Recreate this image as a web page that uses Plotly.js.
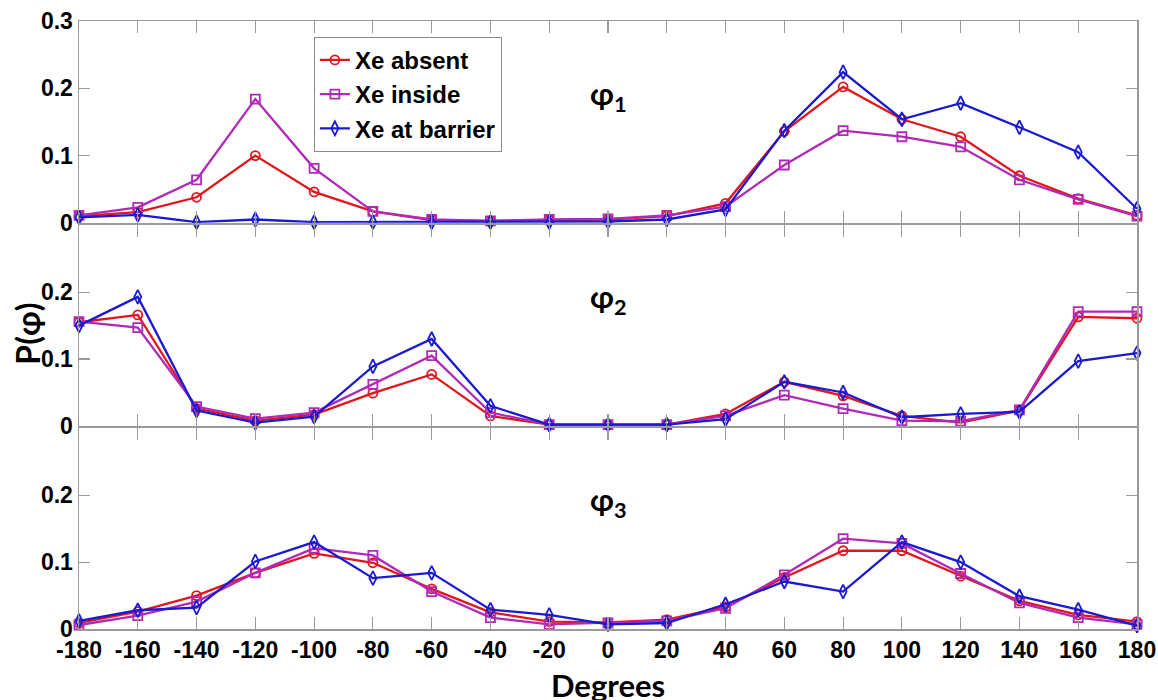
<!DOCTYPE html>
<html>
<head>
<meta charset="utf-8">
<script src="https://cdn.plot.ly/plotly-3.0.1.min.js"></script>
<style>
  html, body { margin: 0; padding: 0; background: #ffffff; }
  #chart { width: 1158px; height: 700px; }
</style>
</head>
<body>
<div id="chart"></div>
<script>
// Dihedral angle bins (degrees)
const degrees = [-180, -160, -140, -120, -100, -80, -60, -40, -20, 0, 20, 40, 60, 80, 100, 120, 140, 160, 180];
const degreeLabels = ["-180", "-160", "-140", "-120", "-100", "-80", "-60", "-40", "-20", "0", "20", "40", "60", "80", "100", "120", "140", "160", "180"];

const seriesNames = ["Xe absent", "Xe inside", "Xe at barrier"];
const panelLabels = ["\u03c6<sub>1</sub>", "\u03c6<sub>2</sub>", "\u03c6<sub>3</sub>"];

// P(phi1)
const phi1Absent  = [0.010, 0.016, 0.038, 0.100, 0.046, 0.017, 0.004, 0.003, 0.004, 0.005, 0.010, 0.029, 0.136, 0.202, 0.154, 0.128, 0.070, 0.036, 0.011];
const phi1Inside  = [0.011, 0.023, 0.064, 0.184, 0.081, 0.017, 0.005, 0.003, 0.005, 0.006, 0.011, 0.024, 0.086, 0.137, 0.128, 0.113, 0.064, 0.035, 0.010];
const phi1Barrier = [0.008, 0.012, 0.001, 0.005, 0.001, 0.001, 0.001, 0.001, 0.001, 0.002, 0.005, 0.020, 0.137, 0.224, 0.154, 0.178, 0.142, 0.105, 0.021];

// P(phi2)
const phi2Absent  = [0.155, 0.166, 0.026, 0.008, 0.017, 0.049, 0.077, 0.015, 0.002, 0.002, 0.002, 0.018, 0.066, 0.045, 0.015, 0.005, 0.023, 0.163, 0.161];
const phi2Inside  = [0.156, 0.147, 0.029, 0.011, 0.020, 0.062, 0.105, 0.020, 0.002, 0.002, 0.002, 0.015, 0.046, 0.026, 0.008, 0.007, 0.024, 0.171, 0.171];
const phi2Barrier = [0.150, 0.193, 0.023, 0.005, 0.014, 0.089, 0.130, 0.030, 0.002, 0.002, 0.002, 0.010, 0.066, 0.050, 0.013, 0.018, 0.021, 0.097, 0.109];

// P(phi3)
const phi3Absent  = [0.009, 0.026, 0.050, 0.084, 0.113, 0.099, 0.060, 0.025, 0.011, 0.010, 0.014, 0.033, 0.077, 0.117, 0.117, 0.079, 0.042, 0.021, 0.011];
const phi3Inside  = [0.006, 0.020, 0.041, 0.084, 0.121, 0.110, 0.056, 0.017, 0.007, 0.009, 0.012, 0.031, 0.081, 0.135, 0.128, 0.083, 0.039, 0.017, 0.007];
const phi3Barrier = [0.012, 0.028, 0.032, 0.101, 0.130, 0.076, 0.084, 0.029, 0.021, 0.007, 0.009, 0.037, 0.071, 0.056, 0.130, 0.100, 0.049, 0.029, 0.005];

const yTicksTop = [0, 0.1, 0.2, 0.3];
const yTickLabelsTop = ["0", "0.1", "0.2", "0.3"];
const yTicksLower = [0, 0.1, 0.2];
const yTickLabelsLower = ["0", "0.1", "0.2"];

const colors = ["#e0161c", "#b02ab8", "#1a1ad0"];
const symbols = ["circle-open", "square-open", "diamond-tall-open"];

const panels = [
  [phi1Absent, phi1Inside, phi1Barrier],
  [phi2Absent, phi2Inside, phi2Barrier],
  [phi3Absent, phi3Inside, phi3Barrier]
];

const narrow = '"Liberation Sans Narrow", "Liberation Sans", Arial, sans-serif';
const humanist = 'Lato, "Open Sans", "Noto Sans", sans-serif';
const axisGray = "#9a9a9a";

const traces = [];
panels.forEach((panel, p) => {
  panel.forEach((vals, s) => {
    traces.push({
      type: "scatter",
      mode: "lines+markers",
      x: degrees,
      y: vals,
      name: seriesNames[s],
      legendgroup: seriesNames[s],
      showlegend: p === 0,
      xaxis: p === 0 ? "x" : "x" + (p + 1),
      yaxis: p === 0 ? "y" : "y" + (p + 1),
      cliponaxis: false,
      line: { color: colors[s], width: 2.3 },
      marker: {
        symbol: symbols[s],
        size: s === 2 ? 10 : 9,
        color: colors[s],
        line: { color: colors[s], width: 1.8 }
      }
    });
  });
});

const domains = [[0.668, 1], [0.334, 0.664], [0, 0.330]];

function xAxis(p) {
  return {
    domain: [0, 1],
    anchor: p === 0 ? "y" : "y" + (p + 1),
    range: [-180, 180],
    tickmode: "array",
    tickvals: degrees,
    ticktext: degreeLabels,
    ticks: "inside",
    ticklen: 12,
    tickwidth: 1.2,
    tickcolor: axisGray,
    showline: true,
    linecolor: axisGray,
    linewidth: 1.5,
    mirror: "ticks",
    showgrid: false,
    zeroline: false,
    showticklabels: p === 2,
    tickfont: { family: narrow, size: 23, color: "#000", weight: "bold" }
  };
}

function yAxis(p) {
  return {
    domain: domains[p],
    anchor: p === 0 ? "x" : "x" + (p + 1),
    range: [0, 0.3],
    tickmode: "array",
    tickvals: p === 0 ? yTicksTop : yTicksLower,
    ticktext: p === 0 ? yTickLabelsTop : yTickLabelsLower,
    ticks: "inside",
    ticklen: 11,
    tickwidth: 1.2,
    tickcolor: axisGray,
    showline: true,
    linecolor: axisGray,
    linewidth: 1.5,
    mirror: "ticks",
    showgrid: false,
    zeroline: false,
    tickfont: { family: narrow, size: 23, color: "#000", weight: "bold" }
  };
}

const annotations = panelLabels.map((txt, p) => ({
  text: txt,
  xref: p === 0 ? "x" : "x" + (p + 1),
  yref: p === 0 ? "y" : "y" + (p + 1),
  x: 0,
  y: 0.19,
  xanchor: "center",
  yanchor: "middle",
  showarrow: false,
  font: { family: humanist, size: 31, color: "#000", weight: "bold" }
}));

annotations.push({
  text: "P(\u03c6)",
  xref: "paper", yref: "paper",
  x: -0.049, y: 0.486,
  xanchor: "center", yanchor: "middle",
  textangle: -90,
  showarrow: false,
  font: { family: humanist, size: 32, color: "#000", weight: "bold" }
});

annotations.push({
  text: "Degrees",
  xref: "paper", yref: "paper",
  x: 0.5, y: -0.058,
  xanchor: "center", yanchor: "top",
  showarrow: false,
  font: { family: humanist, size: 31, color: "#000", weight: "bold" }
});

const layout = {
  width: 1158,
  height: 700,
  margin: { l: 79, r: 21, t: 21, b: 71 },
  paper_bgcolor: "#ffffff",
  plot_bgcolor: "#ffffff",
  showlegend: true,
  legend: {
    x: 0.222, y: 0.974,
    xanchor: "left", yanchor: "top",
    bgcolor: "#ffffff",
    bordercolor: "#8a8a8a",
    borderwidth: 1,
    font: { family: narrow, size: 24, color: "#000", weight: "bold" },
    tracegroupgap: 0
  },
  annotations: annotations
};

[0, 1, 2].forEach(p => {
  layout[p === 0 ? "xaxis" : "xaxis" + (p + 1)] = xAxis(p);
  layout[p === 0 ? "yaxis" : "yaxis" + (p + 1)] = yAxis(p);
});

Plotly.newPlot("chart", traces, layout, { displayModeBar: false, staticPlot: true });
</script>
</body>
</html>
